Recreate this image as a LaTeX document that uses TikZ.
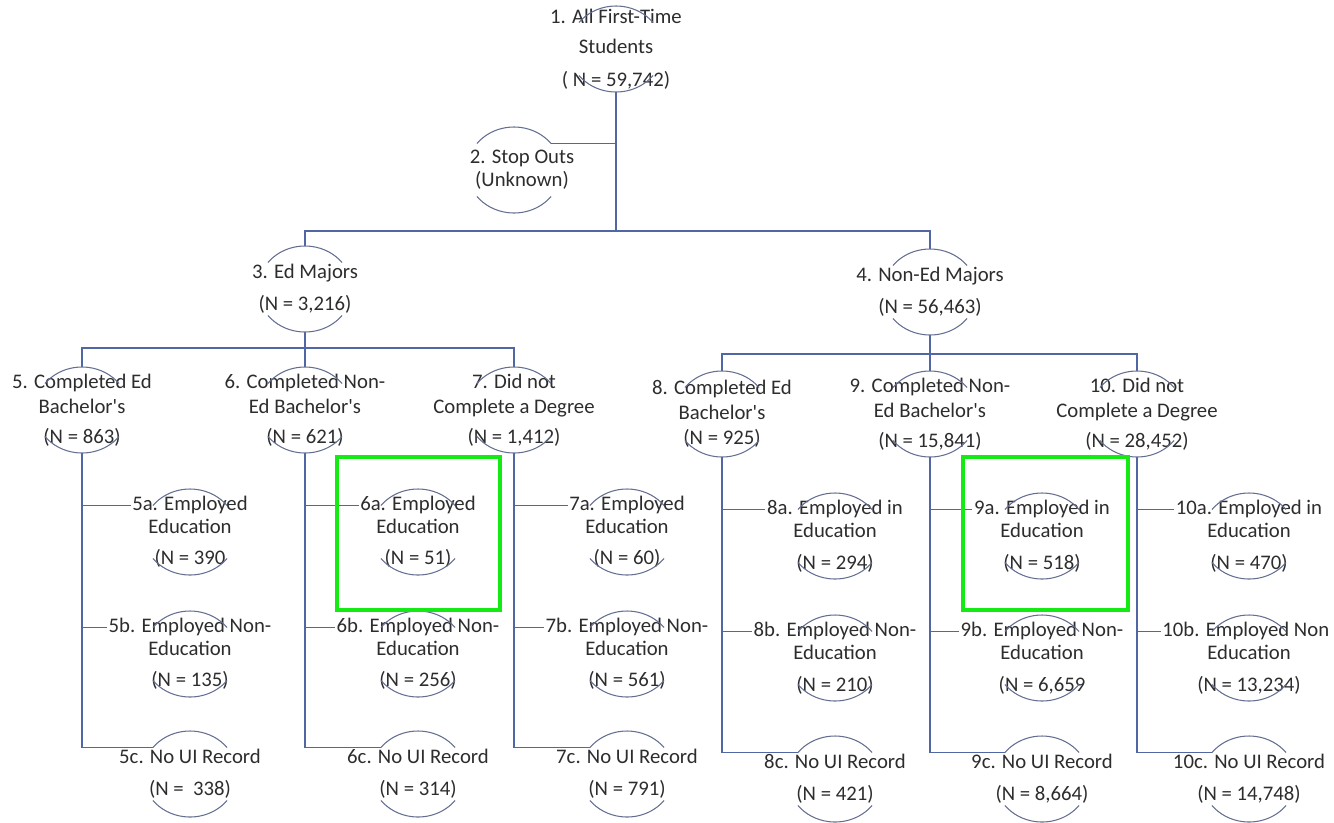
\documentclass[tikz,border=0pt]{standalone}
\usepackage{fontspec}
\setmainfont{Carlito}
\pgfdeclarelayer{bg}
\pgfsetlayers{bg,main}
\definecolor{linkblue}{RGB}{80,102,165}
\definecolor{ringgray}{RGB}{100,110,145}
\definecolor{inkgray}{RGB}{45,45,45}
\definecolor{marker}{RGB}{20,235,20}
\tikzset{link/.style = {draw=linkblue, line width=0.75pt},
         ringline/.style = {draw=ringgray, line width=0.6pt},
         txt/.style = {fill=white, text=inkgray, align=center,
                       inner xsep=1pt, inner ysep=0pt,
                       font=\fontsize{11.8}{13}\selectfont},
         hilite/.style = {draw=marker, line width=2.6pt},
         ring/.pic = {\coordinate (-n) at (0,-43);
                      \coordinate (-s) at (0,43);
                      \coordinate (-nw) at (218:47 and 43);
                      \coordinate (-ne) at (322:47 and 43);
                      \draw[ringline] (218:47 and 43) arc[start angle=218, end angle=322, x radius=47, y radius=43];
                      \draw[ringline] (38:47 and 43) arc[start angle=38, end angle=142, x radius=47, y radius=43];}}

\begin{document}
\begin{tikzpicture}[x=0.02cm, y=-0.02cm]
    \useasboundingbox (0,0) rectangle (1334,822);
    % top of the tree
    \node [txt] (n1) at (616,49) {1. All First-Time\\[4pt]Students\\[5.7pt]( N = 59,742)};
    \node [txt] (n2) at (522,170) {2. Stop Outs\\(Unknown)};
    \node [txt] (n3) at (305,289) {3. Ed Majors\\[5pt](N = 3,216)};
    \node [txt] (n4) at (930,292) {4. Non-Ed Majors\\[5pt](N = 56,463)};
    % majors split
    \node [txt] (n5) at (82,410) {5. Completed Ed\\[1pt]Bachelor\textquotesingle s\\[4pt](N = 863)};
    \node [txt] (n6) at (305,410) {6. Completed Non-\\[1pt]Ed Bachelor\textquotesingle s\\[4pt](N = 621)};
    \node [txt] (n7) at (514,410) {7. Did not\\[1pt]Complete a Degree\\[4pt](N = 1,412)};
    \node [txt] (n8) at (722,414) {8. Completed Ed\\[1pt]Bachelor\textquotesingle s\\[1.7pt](N = 925)};
    \node [txt] (n9) at (930,414) {9. Completed Non-\\[1pt]Ed Bachelor\textquotesingle s\\[4pt](N = 15,841)};
    \node [txt] (n10) at (1137,414) {10. Did not\\[1pt]Complete a Degree\\[4pt](N = 28,452)};
    % employment outcomes
    \node [txt] (n5a) at (190,532) {5a. Employed\\Education\\[4.6pt](N = 390};
    \node [txt] (n5b) at (190,654) {5b. Employed Non-\\Education\\[4.6pt](N = 135)};
    \node [txt] (n5c) at (190,774) {5c. No UI Record\\[5pt](N = \ 338)};
    \node [txt] (n6a) at (418,532) {6a. Employed\\Education\\[4.6pt](N = 51)};
    \node [txt] (n6b) at (418,654) {6b. Employed Non-\\Education\\[4.6pt](N = 256)};
    \node [txt] (n6c) at (418,774) {6c. No UI Record\\[5pt](N = 314)};
    \node [txt] (n7a) at (627,532) {7a. Employed\\Education\\[4.6pt](N = 60)};
    \node [txt] (n7b) at (627,654) {7b. Employed Non-\\Education\\[4.6pt](N = 561)};
    \node [txt] (n7c) at (627,774) {7c. No UI Record\\[5pt](N = 791)};
    \node [txt] (n8a) at (835,536) {8a. Employed in\\Education\\[5pt](N = 294)};
    \node [txt] (n8b) at (835,658) {8b. Employed Non-\\Education\\[5pt](N = 210)};
    \node [txt] (n8c) at (835,779) {8c. No UI Record\\[5pt](N = 421)};
    \node [txt] (n9a) at (1042,536) {9a. Employed in\\Education\\[5pt](N = 518)};
    \node [txt] (n9b) at (1042,658) {9b. Employed Non-\\Education\\[5pt](N = 6,659};
    \node [txt] (n9c) at (1042,779) {9c. No UI Record\\[5pt](N = 8,664)};
    \node [txt] (n10a) at (1249,536) {10a. Employed in\\Education\\[5pt](N = 470)};
    \node [txt] (n10b) at (1249,658) {10b. Employed Non\phantom{-}\\Education\\[5pt](N = 13,234)};
    \node [txt] (n10c) at (1249,779) {10c. No UI Record\\[5pt](N = 14,748)};
    % rings round the labels
    \foreach \n in {1,3,4,5,6,7,8,9,10,5a,5b,5c,6a,6b,6c,7a,7b,7c,8a,8b,8c,9a,9b,9c,10a,10b,10c}
      \pic (r\n) at (n\n) {ring};
    \pic (r2) at (514,170) {ring};
    % tree lines
    \begin{pgfonlayer}{bg}
      \coordinate (bus1) at (616,231);
      \coordinate (bus3) at (305,348);
      \coordinate (bus4) at (930,354);
      \draw [link] (r1-s) -- (bus1);
      \draw [link] (r2-ne) -- (r2-ne -| bus1);
      \draw [link] (r3-n) |- (bus1) -| (r4-n);
      \draw [link] (r3-s) -- (bus3) -- (r6-n);
      \draw [link] (r5-n) |- (bus3) -| (r7-n);
      \draw [link] (r4-s) -- (bus4) -- (r9-n);
      \draw [link] (r8-n) |- (bus4) -| (r10-n);
      \foreach \col in {5,...,10} {
        \draw [link] (r\col-s) |- (r\col c-nw);
        \draw [link] (r\col a-nw) -- (r\col a-nw -| r\col-s);
        \draw [link] (r\col b-nw) -- (r\col b-nw -| r\col-s);
      }
    \end{pgfonlayer}
    % highlighted cells
    \draw [hilite] (337,457) rectangle (500,610);
    \draw [hilite] (963,457) rectangle (1128,610);
\end{tikzpicture}
\end{document}
